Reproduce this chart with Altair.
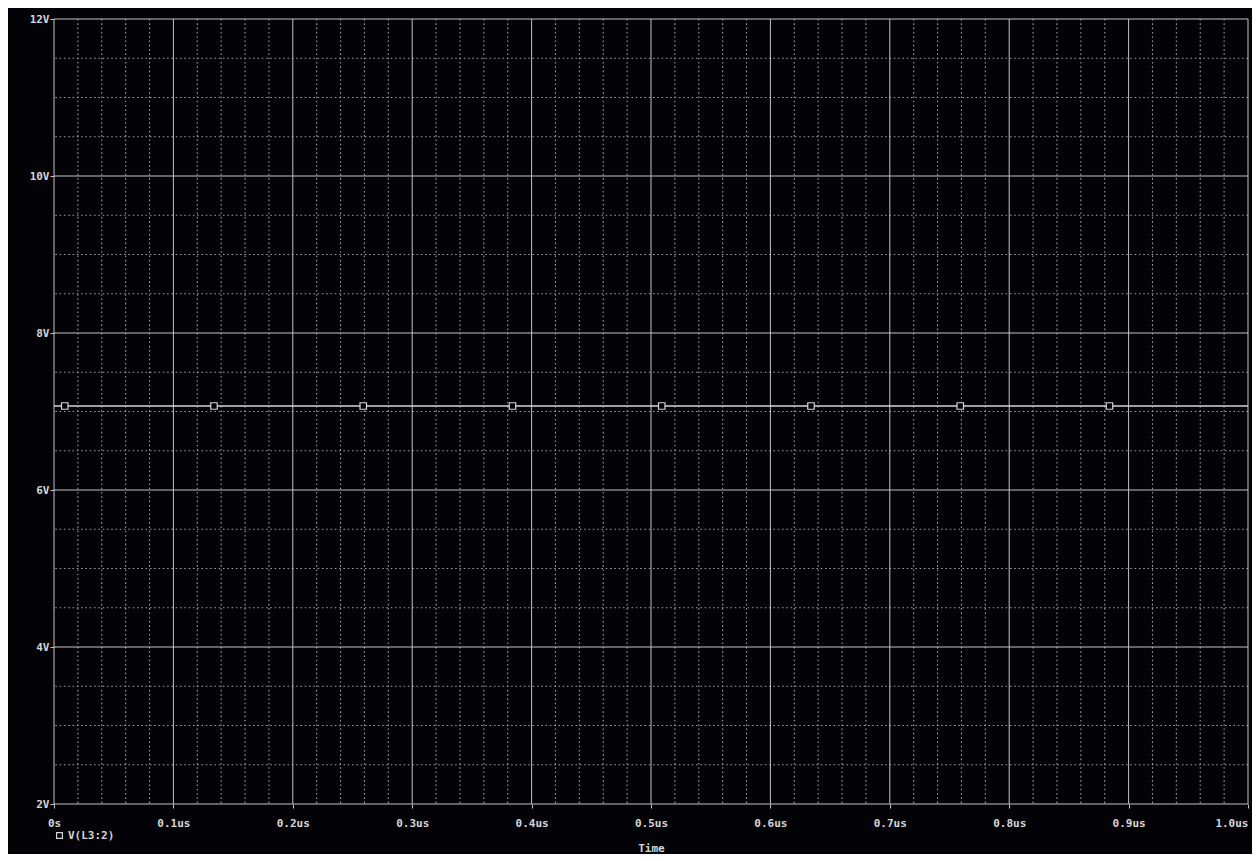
import altair as alt
import pandas as pd

# ---- data ----
series_name = "V(L3:2)"
time_us = [0.0, 1.0]
v_l3 = [7.07, 7.07]
marker_t = [0.009, 0.134, 0.259, 0.384, 0.509, 0.634, 0.759, 0.884]
marker_v = [7.07] * len(marker_t)

# axis / grid positions
x_major = [0.0, 0.1, 0.2, 0.3, 0.4, 0.5, 0.6, 0.7, 0.8, 0.9, 1.0]
y_major = [2, 4, 6, 8, 10, 12]
x_minor = [round(i * 0.02, 2) for i in range(51) if i % 5]
y_minor = [2 + 0.5 * i for i in range(21) if i % 4]

BG = "#030307"
FG = "#d6d6d6"
GRID = "#c4c4c4"
MINOR = "#9c9c9c"
FONT = "DejaVu Sans Mono"

xs = alt.Scale(domain=[0, 1.0], nice=False, zero=False)
ys = alt.Scale(domain=[2, 12], nice=False, zero=False)

xaxis = alt.Axis(
    values=x_major,
    labelExpr="datum.value == 0 ? '0s' : format(datum.value, '.1f') + 'us'",
    labelAlign={"expr": "datum.value >= 0.99 ? 'right' : 'center'"},
    grid=False, domain=False, ticks=True, tickSize=4, tickColor=GRID,
    labelColor=FG, labelFont=FONT, labelFontWeight="bold", labelFontSize=11,
    labelPadding=9, labelFlush=False, labelOverlap=False,
    titleColor=FG, titleFont=FONT, titleFontWeight="bold", titleFontSize=11,
    titleY=47, titleBaseline="alphabetic",
)
yaxis = alt.Axis(
    values=y_major,
    labelExpr="format(datum.value, 'd') + 'V'",
    grid=False, domain=False, ticks=True, tickSize=4, tickColor=GRID,
    labelColor=FG, labelFont=FONT, labelFontWeight="bold", labelFontSize=11,
    labelPadding=1, labelOverlap=False, labelFlush=False,
)

X = alt.X("t:Q", scale=xs, axis=xaxis, title="Time")
Y = alt.Y("v:Q", scale=ys, axis=yaxis, title=None)

minor_v = alt.Chart(pd.DataFrame({"t": x_minor})).mark_rule(
    color=MINOR, strokeWidth=1.1, strokeDash=[1.6, 2.7]
).encode(x=X)
minor_h = alt.Chart(pd.DataFrame({"v": y_minor})).mark_rule(
    color=MINOR, strokeWidth=1.1, strokeDash=[1.6, 2.7]
).encode(y=Y)
major_v = alt.Chart(pd.DataFrame({"t": x_major})).mark_rule(
    color=GRID, strokeWidth=1
).encode(x=X)
major_h = alt.Chart(pd.DataFrame({"v": y_major})).mark_rule(
    color=GRID, strokeWidth=1
).encode(y=Y)

line = alt.Chart(pd.DataFrame({"t": time_us, "v": v_l3})).mark_line(
    color=FG, strokeWidth=1.3
).encode(x=X, y=Y)

markers = alt.Chart(
    pd.DataFrame({"t": marker_t, "v": marker_v, "series": [series_name] * len(marker_t)})
).mark_point(shape="square", filled=False, fill=BG, size=42, strokeWidth=1.2, opacity=1).encode(
    x=X, y=Y,
    color=alt.Color(
        "series:N",
        scale=alt.Scale(range=[FG]),
        legend=alt.Legend(
            title=None, orient="none", legendX=0, legendY=811,
            symbolType="square", symbolSize=34, symbolStrokeWidth=1.2,
            symbolFillColor=BG, symbolStrokeColor=FG,
            labelFont=FONT, labelFontWeight="bold", labelFontSize=11,
            labelColor=FG, padding=0, labelOffset=3,
        ),
    ),
)

chart = alt.layer(minor_v, minor_h, major_v, major_h, line, markers).properties(
    width=1194, height=785,
    autosize="none",
    padding={"left": 46, "top": 11, "right": 4, "bottom": 50},
    background=BG,
).configure_view(strokeWidth=0)

chart.save("out.html", embed_options={"renderer": "svg", "actions": False})
